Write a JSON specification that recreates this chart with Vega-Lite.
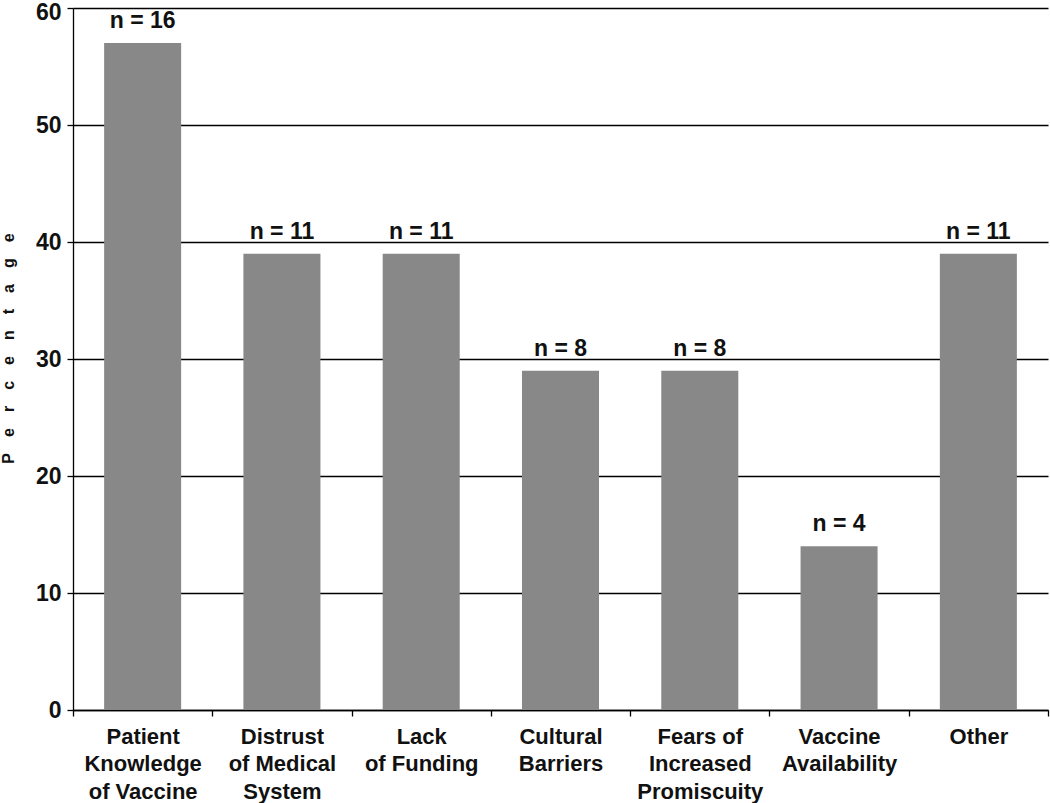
{
  "$schema": "https://vega.github.io/schema/vega-lite/v6.json",
  "width": 975,
  "height": 702,
  "autosize": {"type": "none"},
  "padding": {"left": 73, "top": 8, "right": 2, "bottom": 93},
  "background": "white",
  "config": {
    "view": {"stroke": null},
    "font": "Liberation Sans"
  },
  "data": {
    "values": [
      {"cat": "Patient|Knowledge|of Vaccine", "value": 57, "n": "n = 16"},
      {"cat": "Distrust|of Medical|System", "value": 39, "n": "n = 11"},
      {"cat": "Lack|of Funding", "value": 39, "n": "n = 11"},
      {"cat": "Cultural|Barriers", "value": 29, "n": "n = 8"},
      {"cat": "Fears of|Increased|Promiscuity", "value": 29, "n": "n = 8"},
      {"cat": "Vaccine|Availability", "value": 14, "n": "n = 4"},
      {"cat": "Other", "value": 39, "n": "n = 11"}
    ]
  },
  "encoding": {
    "x": {
      "field": "cat",
      "type": "nominal",
      "sort": null,
      "scale": {"paddingInner": 0, "paddingOuter": 0},
      "axis": {
        "title": null,
        "labelAngle": 0,
        "labelExpr": "split(datum.label, '|')",
        "labelFont": "Liberation Sans",
        "labelFontSize": 22,
        "labelFontWeight": "bold",
        "labelLineHeight": 27.5,
        "labelColor": "#111111",
        "labelPadding": 10,
        "labelBaseline": "top",
        "domainColor": "#000000",
        "domainWidth": 1.3,
        "tickColor": "#000000",
        "tickWidth": 1.3,
        "tickSize": 6,
        "tickBand": "extent",
        "grid": false
      }
    },
    "y": {
      "field": "value",
      "type": "quantitative",
      "scale": {"domain": [0, 60], "nice": false},
      "axis": {
        "title": "P\u2003e\u2003r\u2003c\u2003e\u2003n\u2003t\u2003a\u2003g\u2003e",
        "titleFont": "Liberation Sans",
        "titleFontSize": 16,
        "titleFontWeight": "bold",
        "titleColor": "#111111",
        "titlePadding": 19,
        "titleY": 340,
        "values": [0, 10, 20, 30, 40, 50, 60],
        "labelFont": "Liberation Sans",
        "labelFontSize": 23,
        "labelFontWeight": "bold",
        "labelColor": "#111111",
        "labelPadding": 6,
        "labelOffset": {"condition": {"test": "datum.value == 60", "value": 4}, "value": 0},
        "domainColor": "#000000",
        "domainWidth": 1.3,
        "tickColor": "#000000",
        "tickWidth": 1.3,
        "tickSize": 6,
        "grid": true,
        "gridColor": "#000000",
        "gridWidth": 1.3
      }
    }
  },
  "layer": [
    {"mark": {"type": "bar", "color": "#888888", "width": {"band": 0.553}}},
    {
      "mark": {
        "type": "text",
        "baseline": "alphabetic",
        "dy": -15,
        "font": "Liberation Sans",
        "fontSize": 23,
        "fontWeight": "bold",
        "color": "#111111"
      },
      "encoding": {"text": {"field": "n"}}
    }
  ]
}
